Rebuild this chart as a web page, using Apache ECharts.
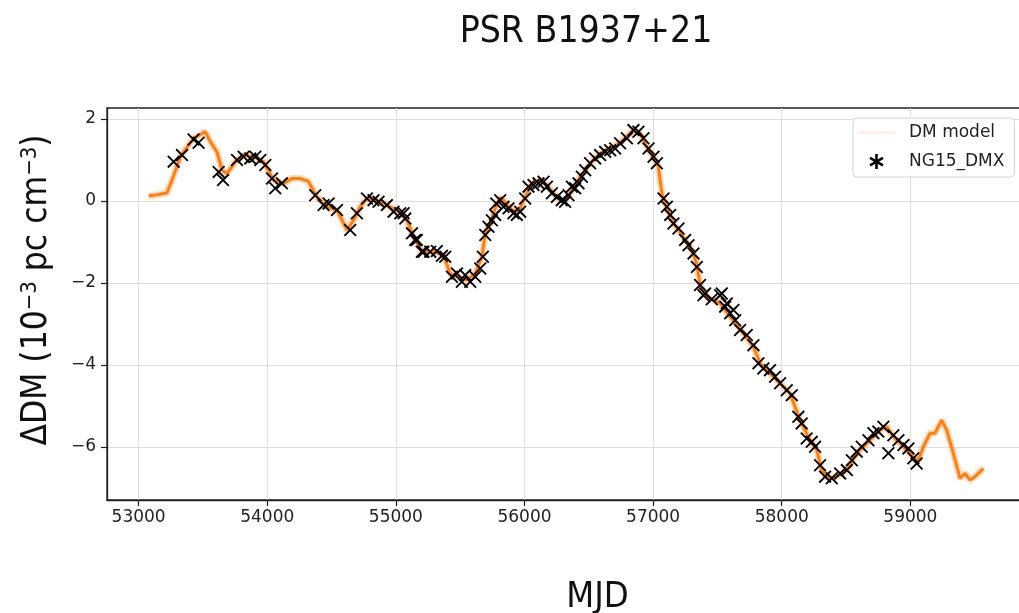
<!DOCTYPE html>
<html>
<head>
<meta charset="utf-8">
<title>PSR B1937+21</title>
<script src="https://cdn.jsdelivr.net/npm/echarts@6/dist/echarts.min.js"></script>
<style>
  html, body { margin: 0; padding: 0; background: #ffffff; }
  #chart { width: 1019px; height: 613px; }
</style>
</head>
<body>
<div id="chart"></div>
<script>
// DM model curve (MJD, ΔDM in 1e-3 pc cm^-3)
var modelMjd = [53078, 53150, 53221, 53260, 53324, 53427, 53518, 53557, 53609, 53648, 53687, 53752,
  53816, 53894, 53971, 54049, 54127, 54192, 54257, 54321, 54386, 54464, 54542, 54620, 54671, 54723,
  54775, 54853, 54930, 55034, 55086, 55137, 55202, 55293, 55370, 55422, 55487, 55552, 55617, 55669,
  55695, 55733, 55785, 55811, 55837, 55902, 55953, 56005, 56057, 56122, 56174, 56225, 56290, 56329,
  56368, 56433, 56510, 56588, 56692, 56769, 56847, 56899, 56951, 57003, 57040, 57068, 57107, 57158,
  57197, 57249, 57288, 57314, 57340, 57365, 57417, 57521, 57599, 57702, 57780, 57832, 57909, 57987,
  58065, 58142, 58220, 58272, 58311, 58363, 58428, 58506, 58583, 58661, 58764, 58816, 58868, 58946,
  59023, 59062, 59101, 59153, 59191, 59243, 59282, 59334, 59386, 59425, 59463, 59502, 59567];
var modelDm = [0.13, 0.15, 0.20, 0.51, 1.08, 1.53, 1.69, 1.45, 1.20, 0.75, 0.67, 0.96,
  1.12, 1.08, 0.96, 0.51, 0.43, 0.55, 0.55, 0.47, 0.10, -0.14, -0.22, -0.71, -0.47, -0.14,
  0.06, 0.02, -0.10, -0.28, -0.47, -0.87, -1.24, -1.24, -1.32, -1.77, -1.85, -1.93, -1.77, -1.36,
  -0.79, -0.55, -0.06, 0.08, 0.02, -0.22, -0.26, 0.10, 0.43, 0.51, 0.39, 0.19, -0.02, 0.06,
  0.27, 0.59, 0.92, 1.16, 1.32, 1.49, 1.73, 1.65, 1.32, 1.08, 0.85, 0.19, -0.18, -0.55,
  -0.71, -0.95, -1.12, -1.30, -1.55, -2.05, -2.34, -2.50, -2.83, -3.23, -3.56, -3.96, -4.21, -4.45,
  -4.70, -5.35, -5.84, -6.08, -6.57, -6.77, -6.73, -6.57, -6.16, -5.92, -5.59, -5.51, -5.76, -6.00,
  -6.25, -6.33, -6.00, -5.67, -5.67, -5.35, -5.59, -6.16, -6.77, -6.65, -6.81, -6.73, -6.53];

// NG15 DMX measurements
var dmxMjd = [53272, 53337, 53427, 53466, 53622, 53656, 53765, 53816, 53868, 53907, 53946, 53985,
  54037, 54062, 54114, 54373, 54438, 54477, 54542, 54645, 54697, 54775, 54826, 54865, 54930, 54982,
  55034, 55060, 55073, 55125, 55150, 55163, 55202, 55215, 55267, 55319, 55358, 55384, 55436, 55475,
  55513, 55539, 55578, 55617, 55656, 55676, 55695, 55720, 55746, 55772, 55780, 55811, 55837, 55876,
  55914, 55940, 55966, 56005, 56031, 56070, 56109, 56148, 56174, 56213, 56252, 56290, 56316, 56342,
  56368, 56394, 56420, 56446, 56472, 56510, 56549, 56588, 56627, 56666, 56705, 56743, 56796, 56847,
  56886, 56925, 56964, 57003, 57029, 57081, 57107, 57133, 57158, 57197, 57249, 57275, 57314, 57340,
  57365, 57391, 57404, 57456, 57521, 57534, 57560, 57573, 57599, 57624, 57638, 57676, 57728, 57780,
  57819, 57857, 57909, 57948, 57987, 58039, 58078, 58129, 58155, 58194, 58233, 58259, 58298, 58337,
  58389, 58454, 58506, 58545, 58583, 58622, 58674, 58713, 58751, 58790, 58829, 58868, 58907, 58946,
  58985, 59023, 59049];
var dmxDm = [0.96, 1.12, 1.50, 1.42, 0.71, 0.51, 1.00, 1.08, 1.04, 1.08, 1.00, 0.88,
  0.55, 0.31, 0.43, 0.14, -0.10, -0.06, -0.22, -0.71, -0.30, 0.06, 0.02, -0.02, -0.10, -0.26,
  -0.30, -0.30, -0.43, -0.79, -0.95, -0.95, -1.24, -1.24, -1.24, -1.22, -1.34, -1.36, -1.85, -1.77,
  -1.97, -1.81, -1.97, -1.85, -1.65, -1.36, -0.83, -0.63, -0.47, -0.34, -0.06, 0.02, -0.14, -0.18,
  -0.30, -0.34, -0.26, 0.06, 0.35, 0.39, 0.43, 0.47, 0.35, 0.19, 0.10, 0.02, -0.02, 0.14,
  0.35, 0.31, 0.43, 0.59, 0.75, 0.92, 1.04, 1.12, 1.20, 1.24, 1.28, 1.41, 1.53, 1.73,
  1.69, 1.53, 1.28, 1.08, 0.92, 0.06, -0.14, -0.34, -0.55, -0.67, -0.95, -1.08, -1.28, -1.61,
  -2.05, -2.30, -2.26, -2.40, -2.30, -2.26, -2.58, -2.50, -2.74, -2.66, -2.91, -3.15, -3.27, -3.52,
  -3.96, -4.09, -4.13, -4.29, -4.45, -4.62, -4.74, -5.27, -5.43, -5.80, -5.88, -6.00, -6.45, -6.73,
  -6.77, -6.65, -6.57, -6.33, -6.12, -6.00, -5.84, -5.67, -5.63, -5.51, -6.16, -5.72, -5.84, -5.96,
  -6.04, -6.28, -6.41];

// axis ticks
var xTicks = [53000, 54000, 55000, 56000, 57000, 58000, 59000];
var yTicks = [-6, -4, -2, 0, 2];

var titleText = 'PSR B1937+21';
var xName = 'MJD';

function pairs(xs, ys) {
  return xs.map(function (x, i) { return [x, ys[i]]; });
}

var humanist = "'Liberation Sans Narrow', 'DejaVu Sans Condensed', Lato, sans-serif";
var plain = "'DejaVu Sans', sans-serif";

// thin "x" marker and a six-armed asterisk for the legend
var crossPath = 'path://M0,1 L1,0 L10,9 L9,10 Z M9,0 L10,1 L1,10 L0,9 Z';
var starPath = 'path://M8.3,0 H11.7 V20 H8.3 Z M17.8,3.5 L19.5,6.5 L2.2,16.5 L0.5,13.5 Z M2.2,3.5 L19.5,13.5 L17.8,16.5 L0.5,6.5 Z';

var chart = echarts.init(document.getElementById('chart'), null, { renderer: 'canvas' });

chart.setOption({
  backgroundColor: '#ffffff',
  animation: false,
  title: {
    text: titleText,
    left: 581,
    top: 9,
    textAlign: 'center',
    textStyle: { fontFamily: humanist, fontSize: 37, fontWeight: 'normal', color: '#111' }
  },
  legend: {
    orient: 'vertical',
    left: 853,
    top: 118,
    padding: [6, 10, 7, 5],
    itemWidth: 37,
    itemHeight: 15,
    itemGap: 12,
    backgroundColor: 'rgba(255,255,255,0.85)',
    borderColor: '#d4d4d4',
    borderWidth: 1,
    borderRadius: 4,
    textStyle: { fontFamily: plain, fontSize: 17, color: '#222', padding: [0, 0, 0, 9] },
    data: [
      { name: 'DM model', icon: 'path://M0,0 H37 V2 H0 Z', itemStyle: { color: 'rgba(255,127,14,0.15)' } },
      { name: 'NG15_DMX', icon: starPath, itemStyle: { color: '#000' } }
    ]
  },
  grid: {
    left: 107,
    top: 108,
    right: -7,
    bottom: 113,
    show: true,
    borderColor: '#222',
    borderWidth: 1.3,
    containLabel: false,
    outerBoundsMode: 'none'
  },
  xAxis: {
    type: 'value',
    min: 52754,
    max: 59899,
    name: xName,
    nameLocation: 'middle',
    nameGap: 80,
    nameTextStyle: { fontFamily: humanist, fontSize: 36, color: '#111', padding: [0, 0, 0, 62] },
    axisLine: { show: true, onZero: false, lineStyle: { color: '#222', width: 1.3 } },
    axisTick: { show: true, customValues: xTicks, length: 6, lineStyle: { color: '#222', width: 1.2 } },
    axisLabel: {
      customValues: xTicks,
      margin: 9,
      fontFamily: plain,
      fontSize: 17,
      color: '#222',
      formatter: function (v) { return String(v); }
    },
    splitLine: { show: true, lineStyle: { color: '#dddddd', width: 1 } }
  },
  yAxis: {
    type: 'value',
    min: -7.30,
    max: 2.27,
    name: '{n|ΔDM (10}{s|−3}{n| pc cm}{s|−3}{n|)}',
    nameLocation: 'middle',
    nameRotate: 90,
    nameGap: 52,
    nameTextStyle: {
      padding: [0, 0, 0, 28],
      rich: {
        n: { fontFamily: humanist, fontSize: 35, color: '#111' },
        s: { fontFamily: humanist, fontSize: 22, color: '#111', verticalAlign: 'top', padding: [0, 0, 14, 0] }
      }
    },
    axisLine: { show: true, onZero: false, lineStyle: { color: '#222', width: 1.3 } },
    axisTick: { show: true, customValues: yTicks, length: 6, lineStyle: { color: '#222', width: 1.2 } },
    axisLabel: {
      customValues: yTicks,
      margin: 11,
      fontFamily: plain,
      fontSize: 17,
      color: '#222',
      formatter: function (v) { return v < 0 ? '\u2212' + Math.abs(v) : String(v); }
    },
    splitLine: { show: true, lineStyle: { color: '#dddddd', width: 1 } }
  },
  series: [
    {
      name: 'DM model',
      type: 'line',
      data: pairs(modelMjd, modelDm),
      showSymbol: false,
      symbol: 'none',
      lineStyle: { color: 'rgba(255,127,14,0.28)', width: 7 },
      itemStyle: { color: 'rgba(255,127,14,0.15)' },
      z: 1,
      silent: true
    },
    {
      name: 'DM model',
      type: 'line',
      data: pairs(modelMjd, modelDm),
      showSymbol: false,
      symbol: 'none',
      lineStyle: { color: '#ff7f0e', width: 3 },
      itemStyle: { color: 'rgba(255,127,14,0.15)' },
      z: 2
    },
    {
      name: 'NG15_DMX',
      type: 'scatter',
      data: pairs(dmxMjd, dmxDm),
      symbol: crossPath,
      symbolSize: 13,
      itemStyle: { color: '#000', opacity: 1 },
      z: 3
    }
  ]
});
</script>
</body>
</html>
